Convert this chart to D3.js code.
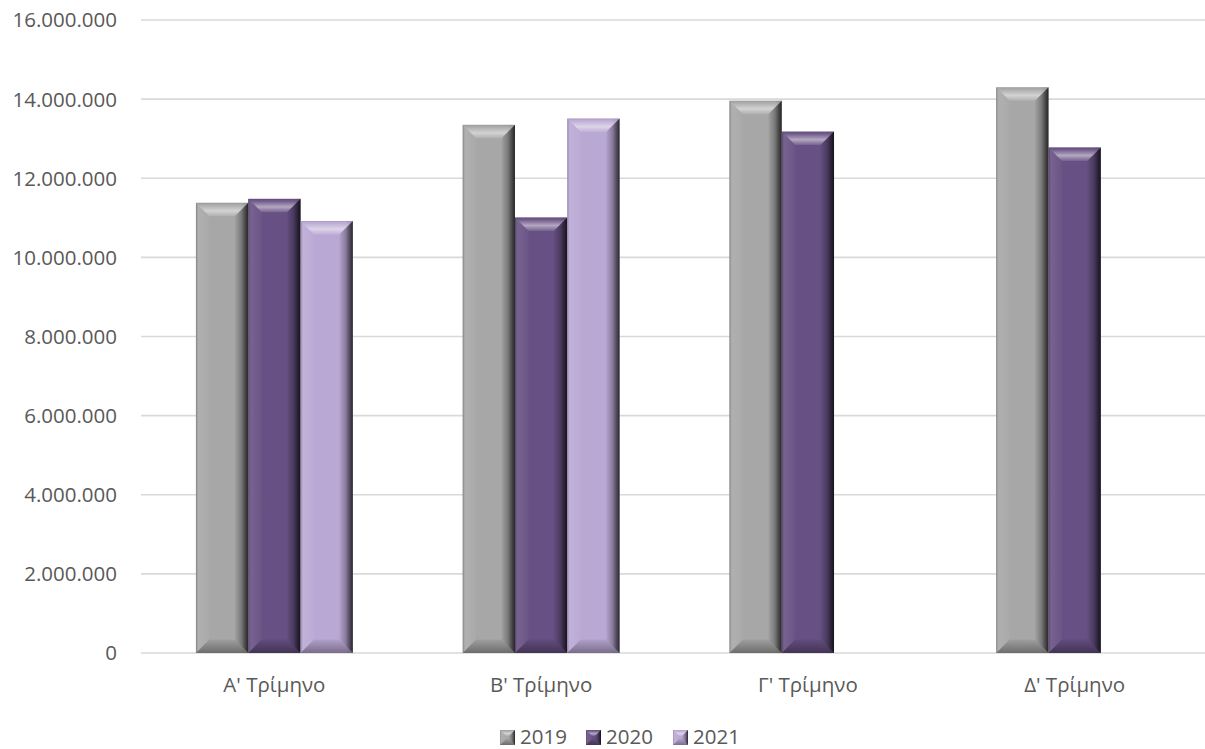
<!DOCTYPE html>
<html><head><meta charset="utf-8">
<script src="https://cdn.jsdelivr.net/npm/d3@7"></script>
<style>html,body{margin:0;padding:0;background:#fff;}svg{display:block;font-family:"Open Sans",sans-serif;}</style>
</head><body><svg id="chart" width="1205" height="749"></svg>
<script>
const categories = ["Α' Τρίμηνο", "Β' Τρίμηνο", "Γ' Τρίμηνο", "Δ' Τρίμηνο"];
const years = ["2019", "2020", "2021"];
const values2019 = [11380000, 13350000, 13960000, 14300000];
const values2020 = [11480000, 11010000, 13180000, 12780000];
const values2021 = [10920000, 13510000, null, null];
const yTicks = [0, 2000000, 4000000, 6000000, 8000000, 10000000, 12000000, 14000000, 16000000];
const colors = ["#a7a7a7", "#675083", "#baa8d4"];

const seriesValues = [values2019, values2020, values2021];
const svg = d3.select("#chart");
const W = 1205, H = 749;
const margin = {left: 141, right: -3, top: 20, bottom: 96};

const y = d3.scaleLinear().domain([0, 16000000]).range([H - margin.bottom, margin.top]);
const x0 = d3.scaleBand().domain(categories).range([margin.left, W - margin.right]).paddingInner(0).paddingOuter(0);
const x1 = d3.scaleBand().domain(years).range([0, x0.bandwidth()]).paddingInner(0).paddingOuter(1.05);

const locale = d3.formatLocale({decimal: ",", thousands: ".", grouping: [3], currency: ["", "€"]});
const fmt = locale.format(",d");

const defs = svg.append("defs");
function grad(id, horizontal, stops) {
  const g = defs.append("linearGradient").attr("id", id)
    .attr("x1", 0).attr("y1", 0).attr("x2", horizontal ? 1 : 0).attr("y2", horizontal ? 0 : 1);
  stops.forEach(s => g.append("stop").attr("offset", s[0]).attr("stop-color", s[1]).attr("stop-opacity", s[2]));
}
grad("gTop", false, [[0, "#000", 0.12], [0.15, "#fff", 0.05], [0.6, "#fff", 0.5], [1, "#fff", 0.1]]);
grad("gLeft", true, [[0, "#000", 0.25], [0.2, "#fff", 0.1], [1, "#fff", 0.03]]);
grad("gRight", true, [[0, "#000", 0.03], [0.5, "#000", 0.28], [1, "#000", 0.75]]);
grad("gBottom", false, [[0, "#000", 0.05], [1, "#000", 0.35]]);
grad("gFace", true, [[0, "#000", 0.0], [0.85, "#000", 0.0], [1, "#000", 0.1]]);

svg.append("g").selectAll("line").data(yTicks).join("line")
  .attr("x1", margin.left).attr("x2", W - margin.right)
  .attr("y1", d => y(d)).attr("y2", d => y(d))
  .attr("stroke", "#d9d9d9").attr("stroke-width", 1.6);

svg.append("g").selectAll("text").data(yTicks).join("text")
  .attr("x", 117).attr("y", d => y(d)).attr("dy", "0.36em")
  .attr("text-anchor", "end").attr("font-size", 20.5).attr("fill", "#595959")
  .text(d => fmt(d));

svg.append("g").selectAll("text").data(categories).join("text")
  .attr("x", d => x0(d) + x0.bandwidth() / 2).attr("y", 692)
  .attr("text-anchor", "middle").attr("font-size", 20.5).attr("fill", "#595959")
  .text(d => d);

function bevel(g, bx, by, bw, bh, color, d) {
  d = Math.min(d, bw / 2, bh / 2);
  const pts = a => a.map(p => p.join(",")).join(" ");
  g.append("rect").attr("x", bx).attr("y", by).attr("width", bw).attr("height", bh).attr("fill", color);
  g.append("rect").attr("x", bx).attr("y", by).attr("width", bw).attr("height", bh).attr("fill", "url(#gFace)");
  const L = bx, R = bx + bw, T = by, B = by + bh;
  g.append("polygon").attr("points", pts([[L, T], [R, T], [R - d, T + d], [L + d, T + d]])).attr("fill", "url(#gTop)");
  g.append("polygon").attr("points", pts([[L, T], [L + d, T + d], [L + d, B - d], [L, B]])).attr("fill", "url(#gLeft)");
  g.append("polygon").attr("points", pts([[R, T], [R, B], [R - d, B - d], [R - d, T + d]])).attr("fill", "url(#gRight)");
  g.append("polygon").attr("points", pts([[L, B], [L + d, B - d], [R - d, B - d], [R, B]])).attr("fill", "url(#gBottom)");
}

const barsG = svg.append("g");
categories.forEach((c, ci) => {
  years.forEach((yr, si) => {
    const v = seriesValues[si][ci];
    if (v == null) return;
    const bx = x0(c) + x1(yr);
    const by = y(v);
    bevel(barsG.append("g"), bx, by, x1.bandwidth(), y(0) - by, colors[si], 13.5);
  });
});

const legendX = [500, 586, 673];
const legend = svg.append("g");
years.forEach((yr, si) => {
  const g = legend.append("g");
  bevel(g, legendX[si], 730, 15, 15, colors[si], 6);
  g.append("text").attr("x", legendX[si] + 20).attr("y", 744)
    .attr("font-size", 20.5).attr("fill", "#595959").text(yr);
});
</script></body></html>
